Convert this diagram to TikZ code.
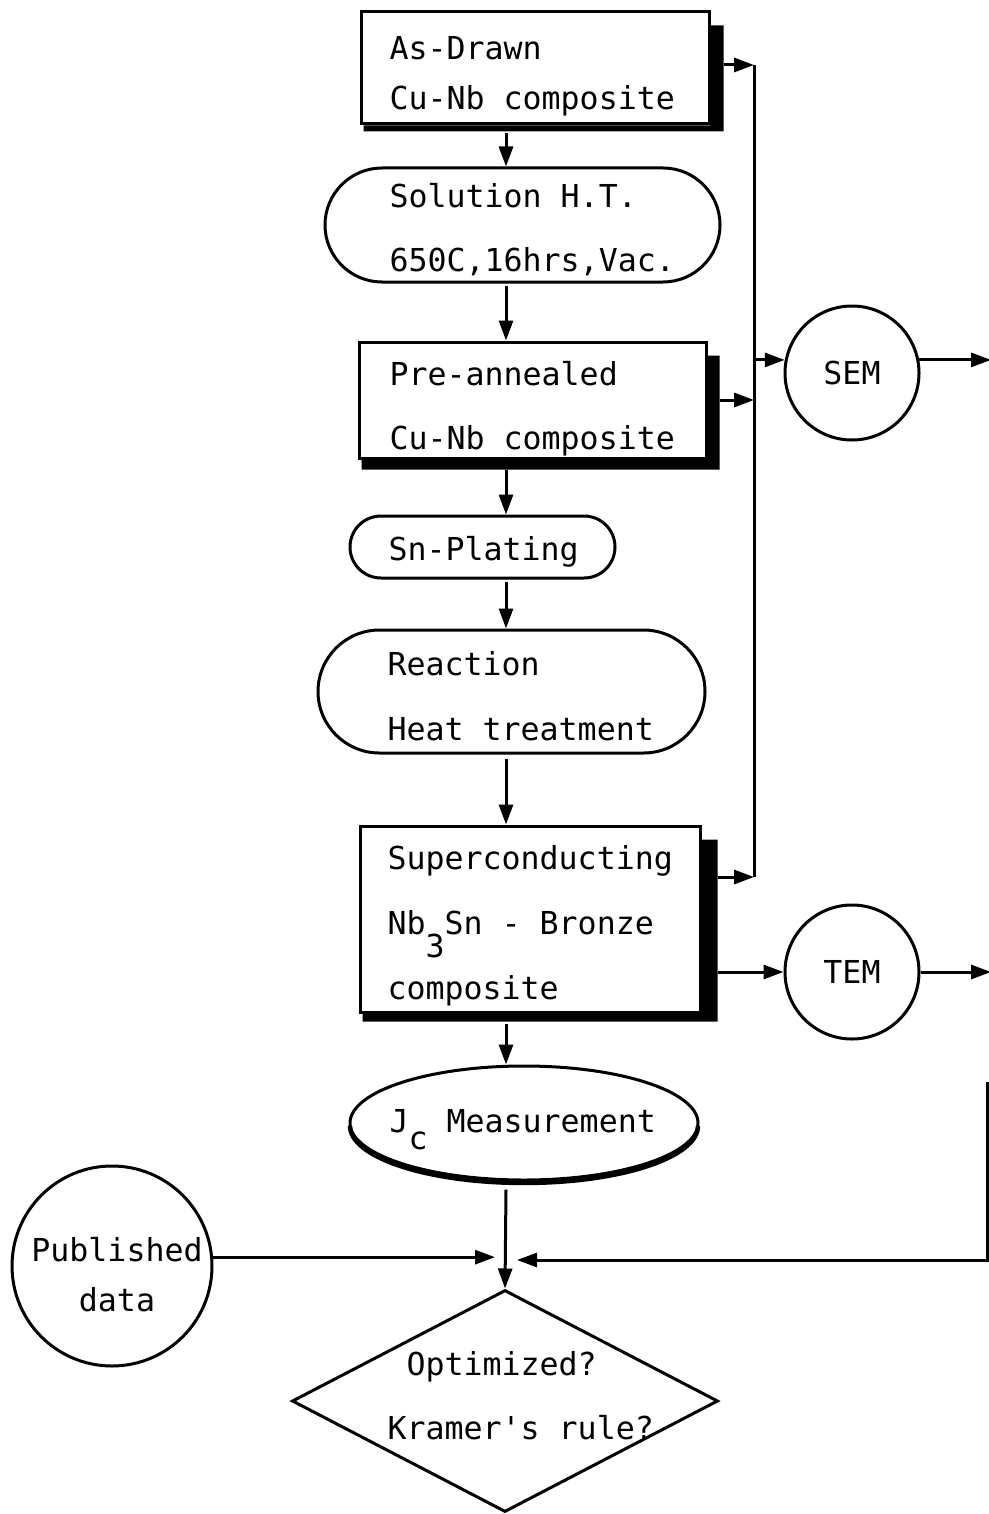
\documentclass[tikz,border=0pt]{standalone}
\usepackage{fontspec}
\setmonofont{DejaVu Sans Mono}
\usetikzlibrary{arrows.meta,shapes.geometric,calc}
\newcommand\dropshadow[3]{%
  \fill ($(#1.north east)+(0,-15)$) -- ++(#2,0) |- ($(#1.south west)+(4,-#3)$) |- (#1.south east) -- cycle;}
\begin{document}
\begin{tikzpicture}[x=0.5pt,y=0.5pt,line width=1.5pt,
  every node/.style={font=\ttfamily\fontsize{15.8pt}{25pt}\selectfont, inner sep=0pt, align=left},
  arr/.style={-{Triangle[length=10pt,width=7pt]}},
  procbox/.style={draw, rectangle},
  stadium/.style={draw, rectangle},
  roundnode/.style={draw, circle},
  lbl/.style={anchor=west}]
\useasboundingbox (0,0) rectangle (989,-1514);

% main column shapes
\node[procbox, minimum width=174pt, minimum height=56pt] (b1) at (535,-68) {};
\dropshadow{b1}{13}{6}
\node[stadium, rounded corners=28.5pt, minimum width=197.5pt, minimum height=57pt] (s2) at (522.5,-225) {};
\node[procbox, minimum width=173.5pt, minimum height=58pt] (b3) at (532.5,-400) {};
\dropshadow{b3}{12}{10}
\node[stadium, rounded corners=15.5pt, minimum width=132.5pt, minimum height=31pt] (s4) at (482.5,-547) {};
\node[stadium, rounded corners=30.75pt, minimum width=193.5pt, minimum height=61.5pt] (s5) at (511.5,-691.5) {};
\node[procbox, minimum width=170pt, minimum height=93pt] (b6) at (530,-919) {};
\dropshadow{b6}{16}{8}
\node[draw, ellipse, minimum width=174pt, minimum height=57pt] (jc) at (524,-1123) {};
\draw[line width=2.2pt] ($(jc.center)+(174,-3)$) arc[start angle=0,end angle=-180,x radius=87pt,y radius=28.5pt];
\node[draw, diamond, minimum width=213pt, minimum height=111pt, aspect=1.92] (dia) at (505,-1401) {};

% texts
\node[lbl] (t1) at (388,-76) {As-Drawn\\Cu-Nb composite};
\node[lbl] (t2) at (388,-230) {Solution H.T.\\[7pt]650C,16hrs,Vac.};
\node[lbl] (t3) at (388,-409) {Pre-annealed\\[7pt]Cu-Nb composite};
\node[lbl] (t4) at (387,-552) {Sn-Plating};
\node[lbl] (t5) at (386,-696.5) {Reaction\\[7.5pt]Heat treatment};
\node[lbl] (t6) at (386,-926) {Superconducting\\[7.5pt]Nb\raisebox{-0.72em}[0pt][0pt]{3}Sn - Bronze\\[7.5pt]composite};
\node[lbl] (t7) at (388,-1121) {J\raisebox{-0.55em}[0pt][0pt]{c} Measurement};
\node[lbl] (t8) at (386,-1396) {\phantom{K}Optimized?\\[7pt]Kramer's rule?};

% side nodes
\node[roundnode, minimum size=67pt] (sem) at (852,-373) {SEM};
\node[roundnode, minimum size=67pt] (tem) at (852,-972) {TEM};
\node[roundnode, minimum size=100pt] (pub) at (112,-1266) {};
\node[align=center] (t9) at (117,-1275) {Published\\data};

% helper coordinates
\coordinate (col) at (506,0);
\coordinate (busT) at (754,-65);
\coordinate (busB) at (754,-877);
\coordinate (rightc) at (991,0);
\coordinate (rt) at (987,-1082);
\coordinate (rb) at (987,-1260);
\coordinate (b1r) at ($(b1.east)+(13,3)$);
\coordinate (b3r) at ($(b3.east)+(12,0)$);
\coordinate (b6r) at ($(b6.east)+(16,0)$);

% vertical flow
\draw[arr] ($(b1.south -| col)+(0,-8)$) -- (s2.north -| col);
\draw[arr] ($(s2.south -| col)+(0,-2)$) -- (b3.north -| col);
\draw[arr] ($(b3.south -| col)+(0,-10)$) -- (s4.north -| col);
\draw[arr] ($(s4.south -| col)+(0,-2)$) -- (s5.north -| col);
\draw[arr] ($(s5.south -| col)+(0,-4)$) -- (b6.north -| col);
\draw[arr] ($(b6.south -| col)+(0,-10)$) -- (jc.north -| col);
\draw[arr] ($(jc.south -| col)+(0,-8)$) -- (dia.north);

% bus to SEM
\draw[arr] (b1r) -- (busT);
\draw (busT) -- (busB);
\draw[arr] (b3r) -- (b3r -| busT);
\draw[arr] (b6r |- busB) -- (busB);
\draw[arr] (busT |- sem.169) -- (sem.169);
\draw[arr] (sem.11) -- (sem.11 -| rightc);

% TEM
\draw[arr] (b6r |- tem.west) -- (tem.west);
\draw[arr] (tem.east) -- (tem.east -| rightc);

% inputs to decision
\draw[arr] (rt) -- (rb) -- ($(col |- rb)+(11,0)$);
\draw[arr] (pub.5) -- ($(col |- pub.5)+(-11,0)$);
\end{tikzpicture}
\end{document}
